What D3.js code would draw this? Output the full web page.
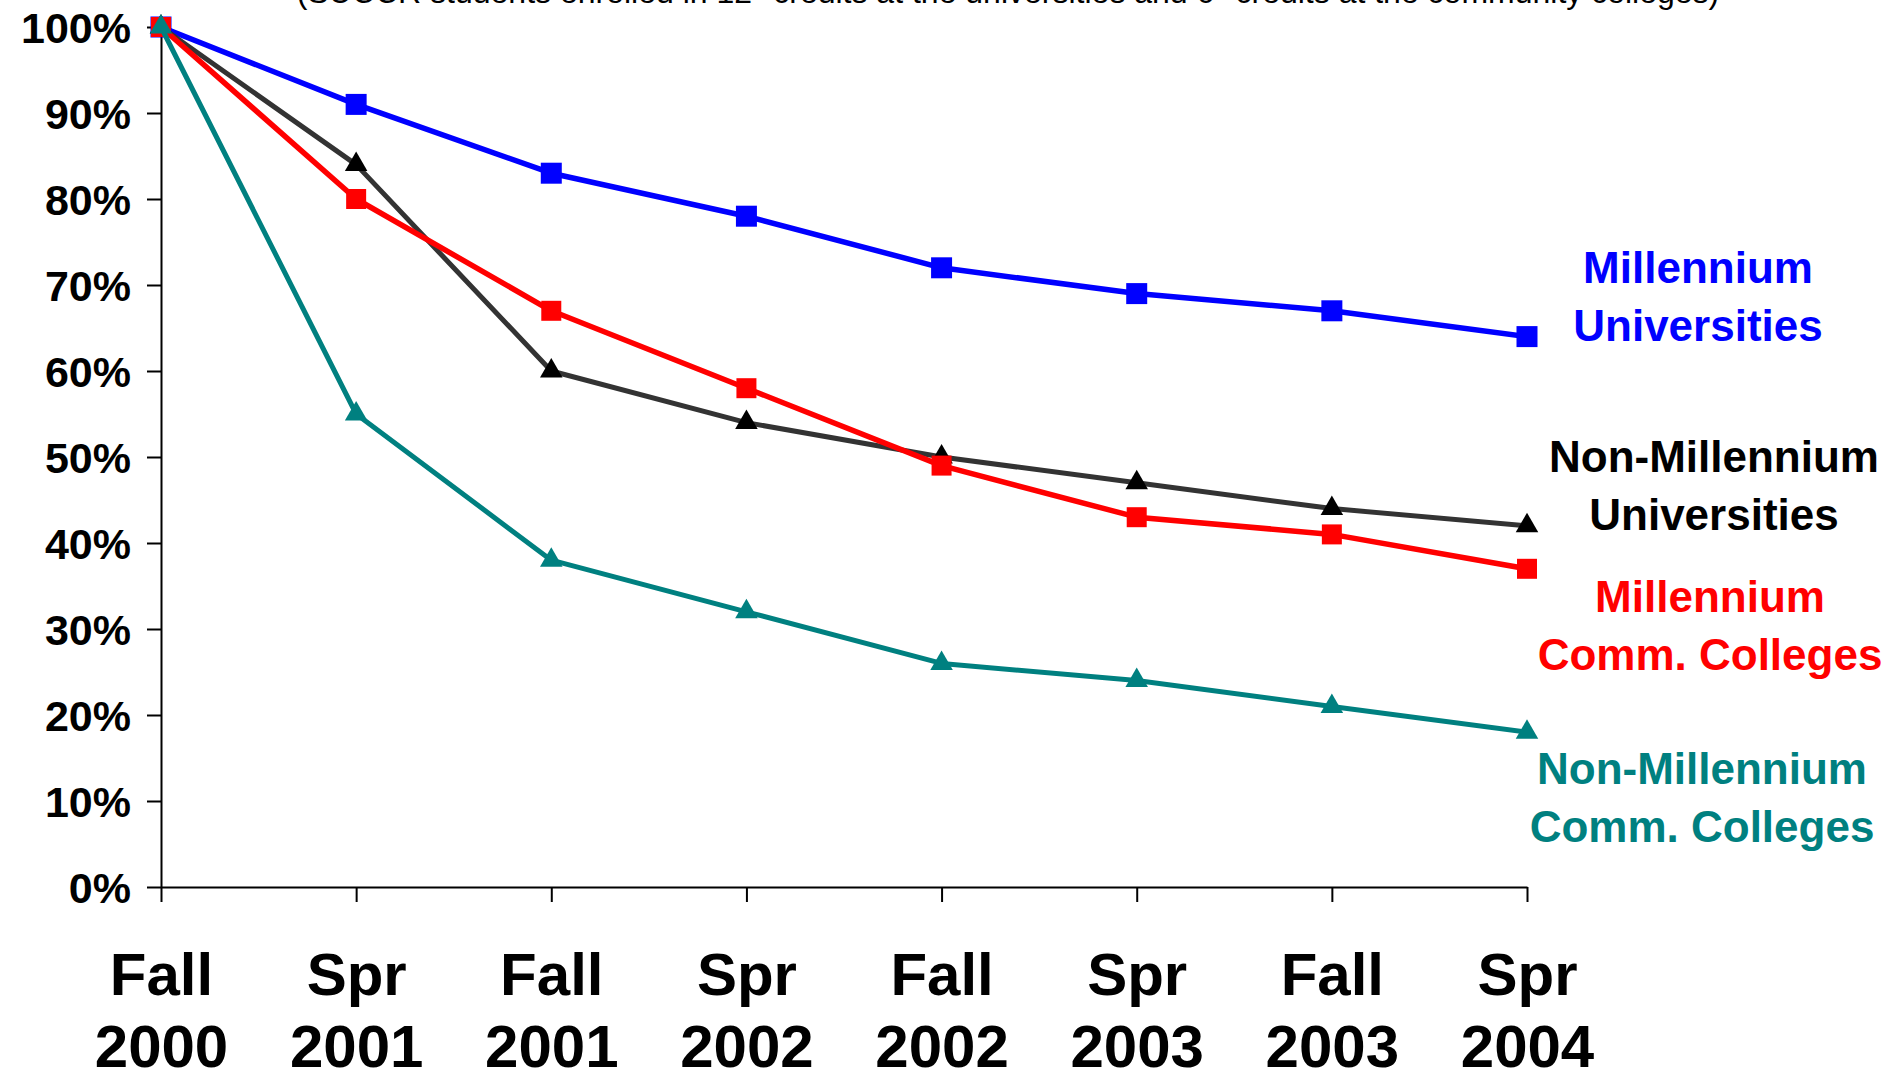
<!DOCTYPE html>
<html>
<head>
<meta charset="utf-8">
<script src="https://cdn.jsdelivr.net/npm/d3@7"></script>
<style>
  html, body { margin: 0; padding: 0; background: #fff; overflow: hidden; }
  svg { display: block; font-family: "Liberation Sans", Arial, sans-serif; }
</style>
</head>
<body>
<svg id="chart" width="1895" height="1071"></svg>
<script>
// terms on the x axis (two lines each)
const terms = ["Fall 2000", "Spr 2001", "Fall 2001", "Spr 2002", "Fall 2002", "Spr 2003", "Fall 2003", "Spr 2004"];
const yTicks = [0, 10, 20, 30, 40, 50, 60, 70, 80, 90, 100];

// percent of cohort still enrolled
const millUniv = [100, 91, 83, 78, 72, 69, 67, 64];
const nonMillUniv = [100, 84, 60, 54, 50, 47, 44, 42];
const millCC = [100, 80, 67, 58, 49, 43, 41, 37];
const nonMillCC = [100, 55, 38, 32, 26, 24, 21, 18];

const seriesNames = [
  ["Millennium", "Universities"],
  ["Non-Millennium", "Universities"],
  ["Millennium", "Comm. Colleges"],
  ["Non-Millennium", "Comm. Colleges"]
];

const series = [
  { values: millUniv, color: "#0000ff", line: "#0000ff", shape: d3.symbolSquare, size: 441, width: 5.5, label: seriesNames[0], lx: 1698, ly: 283 },
  { values: nonMillUniv, color: "#000000", line: "#333333", shape: d3.symbolTriangle, size: 220, width: 5, label: seriesNames[1], lx: 1714, ly: 472 },
  { values: millCC, color: "#ff0000", line: "#ff0000", shape: d3.symbolSquare, size: 400, width: 5.5, label: seriesNames[2], lx: 1710, ly: 612 },
  { values: nonMillCC, color: "#008080", line: "#008080", shape: d3.symbolTriangle, size: 220, width: 5, label: seriesNames[3], lx: 1702, ly: 784 }
];

const svg = d3.select("#chart");

const x = d3.scalePoint().domain(terms).range([161, 1527]).padding(0);
const y = d3.scaleLinear().domain([0, 100]).range([887, 27]);

// subtitle, mostly cut off at the top of the slide as in the original
const sub = svg.append("text")
  .attr("x", 1008)
  .attr("y", 3)
  .attr("text-anchor", "middle")
  .attr("font-size", 32)
  .attr("fill", "#000");
sub.append("tspan").text("(SUCCR students enrolled in 12");
sub.append("tspan").attr("baseline-shift", "super").attr("font-size", 21).text("+");
sub.append("tspan").text(" credits at the universities and 6");
sub.append("tspan").attr("baseline-shift", "super").attr("font-size", 21).text("+");
sub.append("tspan").text(" credits at the community colleges)");

// y axis
const yAxis = svg.append("g")
  .attr("transform", "translate(161,0)")
  .call(d3.axisLeft(y).tickValues(yTicks).tickSize(14).tickSizeOuter(0).tickPadding(16)
    .tickFormat(d => d + "%"));
yAxis.selectAll("text")
  .attr("font-size", 43)
  .attr("font-weight", "bold")
  .attr("fill", "#000")
  .attr("dy", "0.35em");
yAxis.selectAll("path, line").attr("stroke", "#000").attr("stroke-width", 2);

// x axis
const xAxis = svg.append("g")
  .attr("transform", "translate(0,887)")
  .call(d3.axisBottom(x).tickSize(15).tickSizeOuter(0).tickFormat(""));
xAxis.selectAll("path, line").attr("stroke", "#000").attr("stroke-width", 2);

xAxis.selectAll(".tick").each(function (d) {
  const parts = d.split(" ");
  const t = d3.select(this).append("text")
    .attr("text-anchor", "middle")
    .attr("font-size", 60)
    .attr("font-weight", "bold")
    .attr("fill", "#000");
  t.append("tspan").attr("x", 0).attr("y", 108).text(parts[0]);
  t.append("tspan").attr("x", 0).attr("y", 180).text(parts[1]);
});

// lines and markers
const line = d3.line()
  .x((d, i) => x(terms[i]))
  .y(d => y(d));

series.forEach(s => {
  const g = svg.append("g");
  g.append("path")
    .datum(s.values)
    .attr("d", line)
    .attr("fill", "none")
    .attr("stroke", s.line)
    .attr("stroke-width", s.width)
    .attr("stroke-linejoin", "round");
  g.selectAll("path.mark")
    .data(s.values)
    .enter()
    .append("path")
    .classed("mark", true)
    .attr("d", d3.symbol().type(s.shape).size(s.size))
    .attr("transform", (d, i) => "translate(" + x(terms[i]) + "," + y(d) + ")")
    .attr("fill", s.color);

  // label beside the end of the line
  const lab = svg.append("text")
    .attr("text-anchor", "middle")
    .attr("font-size", 44)
    .attr("font-weight", "bold")
    .attr("fill", s.color);
  lab.append("tspan").attr("x", s.lx).attr("y", s.ly).text(s.label[0]);
  lab.append("tspan").attr("x", s.lx).attr("y", s.ly + 58).text(s.label[1]);
});
</script>
</body>
</html>
